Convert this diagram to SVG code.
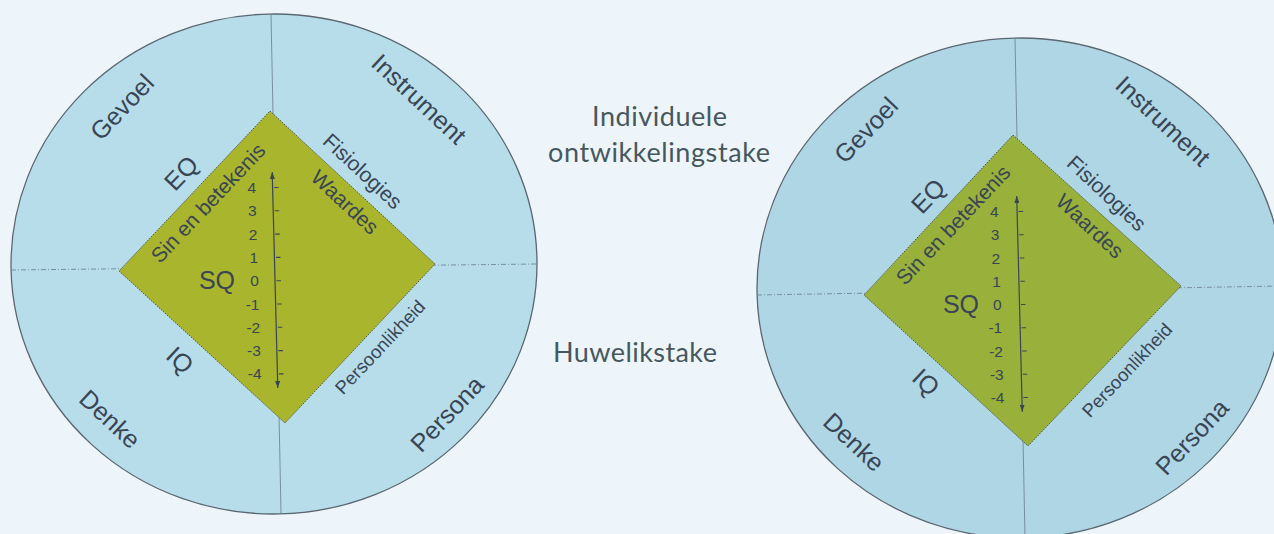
<svg xmlns="http://www.w3.org/2000/svg" width="1274" height="534" viewBox="0 0 1274 534">
<defs>
<style>
.bg{fill:#eef5fa}
.wheel{stroke:#5a6670;stroke-width:1.3}
.w1{fill:#b7ddeb}
.w2{fill:#afd6e5}
.vline{stroke:#6f8797;stroke-width:0.9;fill:none}
.hline{stroke:#6f8797;stroke-width:0.9;stroke-dasharray:5 2 1 2;fill:none}
.dia{stroke:#4a5548;stroke-width:1;stroke-dasharray:1.5 1.2}
.d1{fill:#a9b52c}
.d2{fill:#99b03b}
text{font-family:"Liberation Sans",Arial,sans-serif;fill:#394555}
.big{font-size:25px;text-anchor:middle}
.mid{font-size:21px;text-anchor:middle}
.sm{font-size:18.5px;text-anchor:middle}
.num{font-size:15.5px;text-anchor:end}
.axis{stroke:#394555;stroke-width:1.2;fill:none}
.tick{stroke:#394555;stroke-width:1.1;fill:none}
.side{font-family:Lato,"Open Sans",sans-serif;font-size:27px;fill:#45585f}
</style>
<marker id="arr" viewBox="0 0 7 5" refX="7" refY="2.5" markerWidth="7" markerHeight="5" markerUnits="userSpaceOnUse" orient="auto-start-reverse">
<path d="M0,0 L7,2.5 L0,5 z" fill="#394555"/>
</marker>
</defs>
<rect class="bg" x="0" y="0" width="1274" height="534"/>

<g id="left-wheel">
<ellipse class="wheel w1" cx="274" cy="264" rx="263" ry="250" transform="rotate(-1.2 274 264)"/>
<path class="vline" d="M271,14 L281,513"/>
<path class="hline" d="M11,270 L537,264"/>
<g id="left-diamond">
<polygon class="dia d1" points="270,111 435,264 285,423 119,271"/>
</g>
<g id="left-labels">
<text class="big" x="122" y="107" dy="0.35em" transform="rotate(-46.5 122 107)">Gevoel</text>
<text class="big" x="419" y="99" dy="0.35em" transform="rotate(43 419 99)">Instrument</text>
<text class="big" x="110" y="419" dy="0.35em" transform="rotate(43 110 419)">Denke</text>
<text class="big" x="447" y="414" dy="0.35em" transform="rotate(-46.5 447 414)">Persona</text>
<text class="big" x="181" y="173" dy="0.35em" transform="rotate(-46.5 181 173)">EQ</text>
<text class="big" x="180" y="360" dy="0.35em" transform="rotate(43 180 360)">IQ</text>
<text class="big" x="217" y="280" dy="0.35em">SQ</text>
<text class="mid" x="208" y="203" dy="0.35em" transform="rotate(-46.5 208 203)">Sin en betekenis</text>
<text class="mid" x="362" y="172" dy="0.3em" transform="rotate(43 362 172)">Fisiologies</text>
<text class="mid" x="345" y="202" dy="0.35em" transform="rotate(43 345 202)">Waardes</text>
<text class="sm" x="380" y="347" dy="0.35em" transform="rotate(-46.5 380 347)">Persoonlikheid</text>
</g>
<g id="left-scale">
<text class="num" x="256" y="193">4</text>
<text class="num" x="256.7" y="216.3">3</text>
<text class="num" x="257.4" y="239.6">2</text>
<text class="num" x="258.1" y="262.9">1</text>
<text class="num" x="258.8" y="286.2">0</text>
<text class="num" x="259.5" y="309.5">-1</text>
<text class="num" x="260.2" y="332.8">-2</text>
<text class="num" x="260.9" y="356.1">-3</text>
<text class="num" x="261.6" y="379.4">-4</text>
<path class="tick" d="M274.1,187.5h4.5M274.7,210.8h4.5M275.3,234.1h4.5M275.9,257.4h4.5M276.5,280.7h4.5M277.1,304h4.5M277.8,327.3h4.5M278.4,350.6h4.5M279,373.9h4.5"/>
</g>
</g>

<g id="right-wheel">
<ellipse class="wheel w2" cx="1020" cy="288" rx="263" ry="250" transform="rotate(-1.2 1020 288)"/>
<path class="vline" d="M1015,38 L1025,538"/>
<path class="hline" d="M757,295 L1283,286"/>
<g id="right-diamond">
<polygon class="dia d2" points="1013,135 1181,286 1028,446 864,295"/>
</g>
<g id="right-labels">
<text class="big" x="866" y="130" dy="0.35em" transform="rotate(-46.5 866 130)">Gevoel</text>
<text class="big" x="1163" y="121" dy="0.35em" transform="rotate(43 1163 121)">Instrument</text>
<text class="big" x="854" y="442" dy="0.35em" transform="rotate(43 854 442)">Denke</text>
<text class="big" x="1192" y="437" dy="0.35em" transform="rotate(-46.5 1192 437)">Persona</text>
<text class="big" x="928" y="196" dy="0.35em" transform="rotate(-46.5 928 196)">EQ</text>
<text class="big" x="926" y="382" dy="0.35em" transform="rotate(43 926 382)">IQ</text>
<text class="big" x="961" y="304" dy="0.35em">SQ</text>
<text class="mid" x="953" y="225" dy="0.35em" transform="rotate(-46.5 953 225)">Sin en betekenis</text>
<text class="mid" x="1106" y="194" dy="0.3em" transform="rotate(43 1106 194)">Fisiologies</text>
<text class="mid" x="1090" y="226" dy="0.35em" transform="rotate(43 1090 226)">Waardes</text>
<text class="sm" x="1127" y="370" dy="0.35em" transform="rotate(-46.5 1127 370)">Persoonlikheid</text>
</g>
<g id="right-scale">
<text class="num" x="998.5" y="217">4</text>
<text class="num" x="999.25" y="240.25">3</text>
<text class="num" x="1000" y="263.5">2</text>
<text class="num" x="1000.75" y="286.75">1</text>
<text class="num" x="1001.5" y="310">0</text>
<text class="num" x="1002.25" y="333.25">-1</text>
<text class="num" x="1003" y="356.5">-2</text>
<text class="num" x="1003.75" y="379.75">-3</text>
<text class="num" x="1004.5" y="403">-4</text>
<path class="tick" d="M1018.6,211.5h4.5M1019.2,234.75h4.5M1019.8,258h4.5M1020.4,281.25h4.5M1021,304.5h4.5M1021.6,327.75h4.5M1022.2,351h4.5M1022.8,374.25h4.5M1023.4,397.5h4.5"/>
</g>
</g>

<g id="connectors">
<path class="axis" d="M272.2,172 L277.8,388" marker-start="url(#arr)" marker-end="url(#arr)"/>
<path class="axis" d="M1016.7,196 L1022.3,411.7" marker-start="url(#arr)" marker-end="url(#arr)"/>
</g>

<g id="middle-labels">
<text class="side" x="659.5" y="126" text-anchor="middle" textLength="135">Individuele</text>
<text class="side" x="659" y="162" text-anchor="middle" textLength="222">ontwikkelingstake</text>
<text class="side" x="553" y="362" textLength="164">Huwelikstake</text>
</g>
</svg>
